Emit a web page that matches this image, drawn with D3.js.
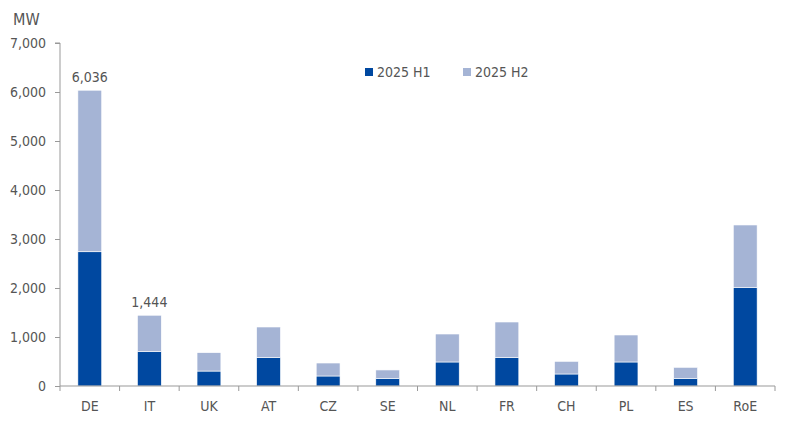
<!DOCTYPE html>
<html><head><meta charset="utf-8">
<script src="https://cdn.jsdelivr.net/npm/d3@7"></script>
<style>
body{margin:0;background:#fff;}
text{font-family:"Liberation Sans Narrow","DejaVu Sans Condensed","Open Sans",sans-serif;fill:#555;}
</style></head>
<body><svg id="c" width="793" height="422"></svg>
<script>
const categories = ["DE","IT","UK","AT","CZ","SE","NL","FR","CH","PL","ES","RoE"];
const h1 = [2740, 700, 305, 578, 204, 157, 490, 578, 245, 490, 157, 2006];
const h2 = [3296, 744, 375, 626, 265, 170, 571, 728, 258, 551, 224, 1280];
const seriesNames = ["2025 H1","2025 H2"];
const yTicks = [0,1000,2000,3000,4000,5000,6000,7000];
const totalLabels = {"DE":"6,036","IT":"1,444"};
const colors = ["#0048A0","#A5B4D5"];

const svg = d3.select("#c");
const m = {l:60, r:18, t:43, b:36};
const W = 793, H = 422;
const x = d3.scaleBand().domain(categories).range([m.l, W - m.r]).paddingInner(0.6).paddingOuter(0.3);
const y = d3.scaleLinear().domain([0,7000]).range([H - m.b, m.t]);

const data = categories.map((c,i)=>({cat:c, H1:h1[i], H2:h2[i]}));
const stack = d3.stack().keys(["H1","H2"])(data);

svg.append("g").selectAll("g").data(stack).join("g")
  .attr("fill",(d,i)=>colors[i])
  .selectAll("rect").data(d=>d).join("rect")
  .attr("x", d=>x(d.data.cat))
  .attr("width", x.bandwidth())
  .attr("y", d=>y(d[1]))
  .attr("height", d=>y(d[0]) - y(d[1]))
  .attr("stroke","#fff").attr("stroke-width",0.6);

// y axis
const ya = svg.append("g").attr("transform",`translate(${m.l},0)`)
  .call(d3.axisLeft(y).tickValues(yTicks).tickFormat(d3.format(",")).tickSize(5).tickPadding(9));
ya.select(".domain").attr("stroke","#999").attr("d",`M-5,${y(7000)}H0V${y(0)}`);
ya.selectAll(".tick line").attr("stroke","#999");
ya.selectAll(".tick text").style("font-size","14px").attr("fill","#555");

// x axis
const xa = svg.append("g").attr("transform",`translate(0,${y(0)})`)
  .call(d3.axisBottom(x).tickSize(0).tickPadding(15));
xa.select(".domain").attr("stroke","#999").attr("d",`M${m.l},0H${W-m.r}`);
xa.selectAll(".tick text").style("font-size","14px").attr("fill","#555");
const bounds = d3.range(categories.length+1).map(i=>m.l + i*(W-m.r-m.l)/categories.length);
xa.selectAll(".bnd").data(bounds).join("line").attr("class","bnd")
  .attr("x1",d=>d).attr("x2",d=>d).attr("y1",0).attr("y2",5).attr("stroke","#999");

// total labels
svg.append("g").selectAll("text").data(data.filter(d=>totalLabels[d.cat])).join("text")
  .attr("x", d=>x(d.cat)+x.bandwidth()/2)
  .attr("y", d=>y(d.H1+d.H2)-8)
  .attr("text-anchor","middle").style("font-size","14px")
  .text(d=>totalLabels[d.cat]);

// MW label
svg.append("text").attr("x",13).attr("y",25).style("font-size","16px").text("MW");

// legend
const legX = [365, 463];
const lg = svg.append("g").selectAll("g").data(seriesNames).join("g")
  .attr("transform",(d,i)=>`translate(${legX[i]},72)`);
lg.append("rect").attr("x",0).attr("y",-4).attr("width",8).attr("height",8).attr("fill",(d,i)=>colors[i]);
lg.append("text").attr("x",12).attr("y",5).style("font-size","14px").attr("fill","#333").text(d=>d);
</script></body></html>
